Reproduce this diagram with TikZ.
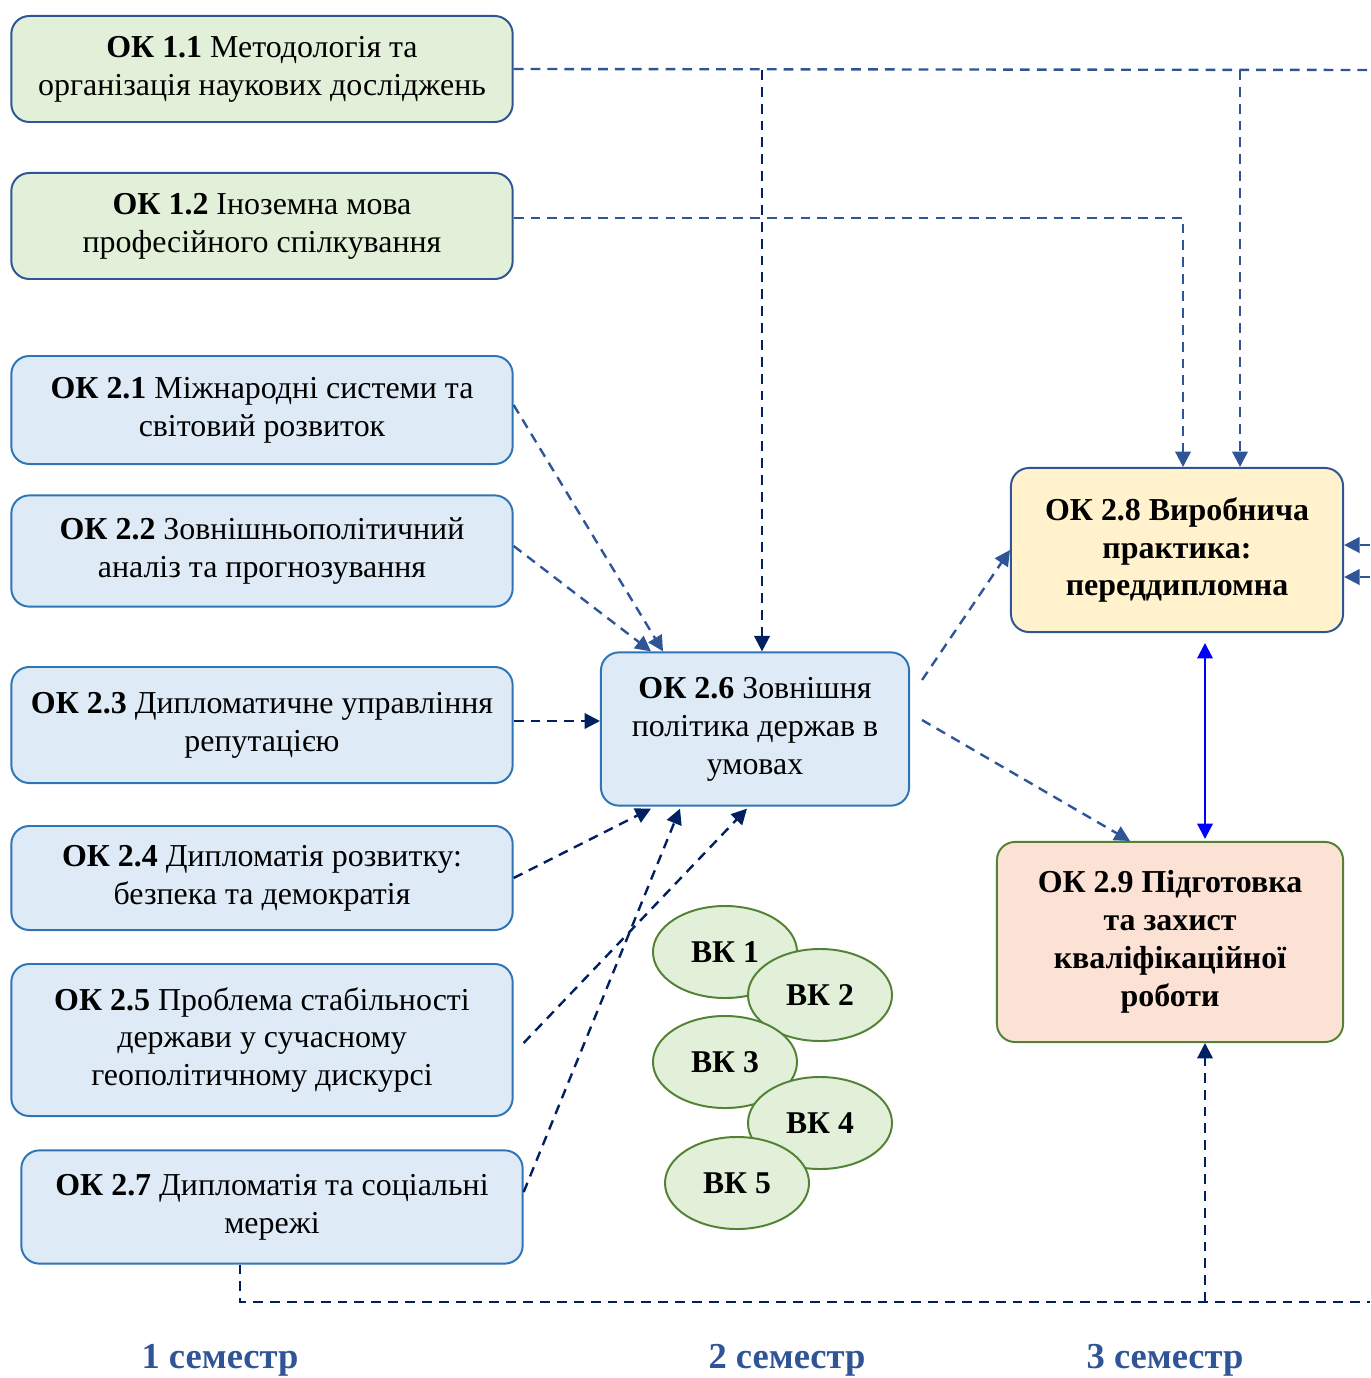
\documentclass[tikz,border=0pt]{standalone}
\usepackage{fontspec}
\setmainfont{Liberation Serif}
\usetikzlibrary{arrows.meta,calc,shapes.geometric}
\definecolor{fillgreen}{HTML}{E2F0D9}
\definecolor{fillblue}{HTML}{DEEBF7}
\definecolor{fillyellow}{HTML}{FFF2CC}
\definecolor{fillpeach}{HTML}{FBE2D5}
\definecolor{edgeblue}{HTML}{2E75B6}
\definecolor{edgedark}{HTML}{2F5597}
\definecolor{edgegreen}{HTML}{548235}
\definecolor{linkblue}{HTML}{2F5597}
\definecolor{linknavy}{HTML}{002060}
\definecolor{semblue}{HTML}{2F5597}
\tikzset{
  okbox/.style={draw=edgeblue, fill=fillblue, line width=1.4pt, rounded corners=0.45cm,
    align=center, minimum width=12.53cm, inner sep=2pt, font=\fontsize{22.7}{27}\selectfont},
  okstart/.style={okbox, draw=edgedark, fill=fillgreen},
  vkoval/.style={ellipse, draw=edgegreen, fill=fillgreen, line width=1.4pt,
    minimum width=3.6cm, minimum height=2.3cm, font=\fontsize{22.5}{26}\selectfont\bfseries},
  link/.style={draw=linkblue, line width=1.7pt, dash pattern=on 7pt off 5pt},
  linkdark/.style={link, draw=linknavy},
  tip/.style={-{Triangle[length=11pt,width=11pt]}},
  semlabel/.style={text=semblue, font=\fontsize{26}{30}\selectfont\bfseries}
}
\begin{document}
\begin{tikzpicture}[x=0.025cm, y=-0.025cm]
\useasboundingbox (0,0) rectangle (1370,1378);

\node[okstart, minimum height=2.65cm] (ok11) at (262,69) {\textbf{ОК 1.1} Методологія та\\організація наукових досліджень};
\node[okstart, minimum height=2.65cm] (ok12) at (262,226) {\textbf{ОК 1.2} Іноземна мова\\професійного спілкування};

\node[okbox, minimum height=2.7cm] (ok21) at (262,410) {\textbf{ОК 2.1} Міжнародні системи та\\світовий розвиток};
\node[okbox, minimum height=2.78cm] (ok22) at (262,551) {\textbf{ОК 2.2} Зовнішньополітичний\\аналіз та прогнозування};
\node[okbox, minimum height=2.9cm] (ok23) at (262,725) {\textbf{ОК 2.3} Дипломатичне управління\\репутацією};
\node[okbox, minimum height=2.6cm] (ok24) at (262,878) {\textbf{ОК 2.4} Дипломатія розвитку:\\безпека та демократія};
\node[okbox, minimum height=3.8cm] (ok25) at (262,1040) {\textbf{ОК 2.5} Проблема стабільності\\держави у сучасному\\геополітичному дискурсі};
\node[okbox, minimum height=2.83cm] (ok27) at (272,1207) {\textbf{ОК 2.7} Дипломатія та соціальні\\мережі};

\node[okbox, minimum width=7.7cm, minimum height=3.83cm] (ok26) at (755,729) {\textbf{ОК 2.6} Зовнішня\\політика держав в\\умовах};
\node[okbox, draw=edgedark, fill=fillyellow, minimum width=8.3cm, minimum height=4.1cm, font=\fontsize{22.7}{27}\selectfont\bfseries] (ok28) at (1177,550) {ОК 2.8 Виробнича\\практика:\\переддипломна};
\node[okbox, draw=edgegreen, fill=fillpeach, minimum width=8.65cm, minimum height=5cm, font=\fontsize{22.7}{27}\selectfont\bfseries] (ok29) at (1170,942) {ОК 2.9 Підготовка\\та захист\\кваліфікаційної\\роботи};

\node[vkoval] (vk1) at (725,952) {ВК 1};
\node[vkoval] (vk2) at (820,995) {ВК 2};
\node[vkoval] (vk3) at (725,1062) {ВК 3};
\node[vkoval] (vk4) at (820,1123) {ВК 4};
\node[vkoval] (vk5) at (737,1183) {ВК 5};

\node[semlabel] (sem1) at (220,1360) {1 семестр};
\node[semlabel] (sem2) at (787,1360) {2 семестр};
\node[semlabel] (sem3) at (1165,1360) {3 семестр};

\coordinate (t1) at (1370,70);
\coordinate (j1) at (762,70);
\coordinate (j2) at (1240,70);
\coordinate (j3) at (1183,218);
\coordinate (r1) at (1370,545);
\coordinate (r2) at (1370,577);
\coordinate (b1) at (240,1302);
\coordinate (b2) at (1370,1302);
\coordinate (b3) at (1205,1302);

\draw[link] (ok11.east) -- (t1);
\draw[linkdark,tip] (j1) to (j1 |- ok26.north);
\draw[link,tip] (j2) to (j2 |- ok28.north);
\draw[link,tip] (ok12.east |- j3) -- (j3) -- (j3 |- ok28.north);
\draw[link,tip] (r1) to (r1 -| ok28.east);
\draw[link,tip] (r2) to (r2 -| ok28.east);

\draw[link,tip] ($(ok21.east)+(0,-5)$) to ($(ok26.north)+(-92,0)$);
\draw[link,tip] ($(ok22.east)+(0,-5)$) to ($(ok26.north)+(-104,0)$);
\draw[linkdark,tip] ($(ok23.east)+(0,-4)$) to ($(ok26.west)+(0,-8)$);
\draw[linkdark,tip] (ok24.east) to ($(ok26.south)+(-104,2)$);
\draw[linkdark,tip] ($(ok25.east)+(10,3)$) to ($(ok26.south)+(-8,2)$);
\draw[linkdark,tip] ($(ok27.east)+(0,-15)$) to ($(ok26.south)+(-75,2)$);

\draw[link,tip] ($(ok26.east)+(12,-49)$) to (ok28.west);
\draw[link,tip] ($(ok26.east)+(12,-9)$) to ($(ok29.north)+(-40,0)$);
\draw[blue, line width=1.6pt, {Triangle[length=11pt,width=11pt]}-{Triangle[length=11pt,width=11pt]}] ($(ok28.south)+(28,10)$) to ($(ok29.north)+(35,-2)$);

\draw[linkdark] (ok27.south -| b1) -- (b1) -- (b2);
\draw[linkdark,tip] (b3) to (b3 |- ok29.south);
\end{tikzpicture}
\end{document}
